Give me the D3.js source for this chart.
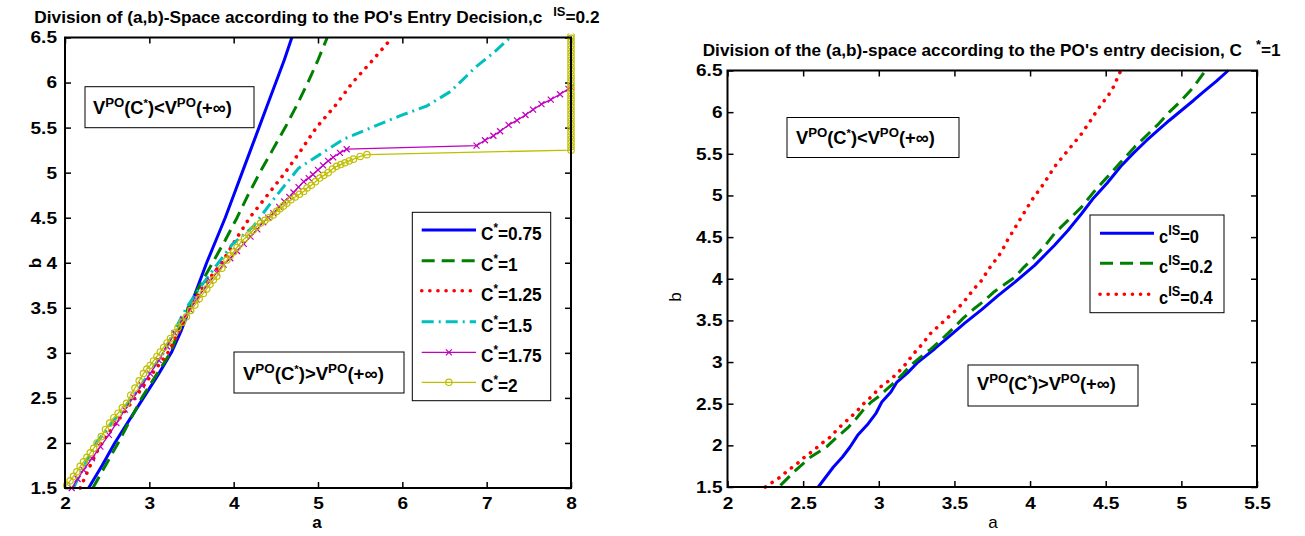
<!DOCTYPE html>
<html><head><meta charset="utf-8">
<script src="https://cdn.jsdelivr.net/npm/d3@7"></script>
<style>html,body{margin:0;padding:0;background:#fff;}svg{display:block;}</style>
</head><body>
<svg id="chart" width="1305" height="536"></svg>
<script>
// ---------------- DATA ----------------
// Left panel: c^IS = 0.2, curves for different C*
const leftXTicks = [2, 3, 4, 5, 6, 7, 8];
const leftYTicks = [1.5, 2, 2.5, 3, 3.5, 4, 4.5, 5, 5.5, 6, 6.5];
const leftLabels = ["0.75", "1", "1.25", "1.5", "1.75", "2"];

const leftC075 = [[2.28,1.5],[2.44,1.75],[2.59,2.0],[2.76,2.25],[2.93,2.5],[3.10,2.75],[3.26,3.0],[3.38,3.25],[3.48,3.5],[3.58,3.75],[3.68,4.0],[3.79,4.25],[3.90,4.5],[4.00,4.75],[4.10,5.0],[4.20,5.25],[4.30,5.5],[4.40,5.75],[4.50,6.0],[4.60,6.25],[4.69,6.5]];
const leftC1 = [[2.33,1.5],[2.48,1.75],[2.63,2.0],[2.77,2.25],[2.91,2.5],[3.08,2.75],[3.25,3.0],[3.35,3.25],[3.46,3.5],[3.60,3.75],[3.75,4.0],[3.90,4.25],[4.04,4.5],[4.17,4.75],[4.31,5.0],[4.46,5.25],[4.61,5.5],[4.75,5.75],[4.88,6.0],[5.00,6.25],[5.11,6.5]];
const leftC125 = [[2.18,1.5],[2.30,1.75],[2.43,2.0],[2.63,2.25],[2.83,2.5],[3.02,2.75],[3.22,3.0],[3.36,3.25],[3.48,3.5],[3.65,3.75],[3.86,4.0],[4.02,4.25],[4.19,4.5],[4.40,4.75],[4.61,5.0],[4.80,5.25],[4.98,5.5],[5.21,5.75],[5.41,6.0],[5.65,6.25],[5.88,6.5]];
const leftC15 = [[2.10,1.5],[2.23,1.75],[2.37,2.0],[2.58,2.25],[2.80,2.5],[2.98,2.75],[3.17,3.0],[3.30,3.25],[3.44,3.5],[3.62,3.75],[3.82,4.0],[3.98,4.2],[4.23,4.40],[4.47,4.70],[4.77,5.05],[5.02,5.2],[5.30,5.37],[5.58,5.48],[5.97,5.63],[6.29,5.74],[6.57,5.90],[6.88,6.18],[7.08,6.33],[7.28,6.5]];
const leftC175 = [[2.08,1.5],[2.15,1.60],[2.22,1.70],[2.32,1.83],[2.42,1.96],[2.52,2.09],[2.61,2.22],[2.71,2.37],[2.81,2.51],[2.91,2.64],[3.01,2.77],[3.11,2.92],[3.21,3.07],[3.30,3.22],[3.40,3.37],[3.48,3.48],[3.56,3.59],[3.64,3.70],[3.72,3.80],[3.80,3.89],[3.88,3.98],[3.96,4.05],[4.04,4.13],[4.12,4.21],[4.20,4.29],[4.28,4.37],[4.35,4.45],[4.41,4.50],[4.47,4.55],[4.54,4.62],[4.60,4.68],[4.66,4.73],[4.71,4.78],[4.77,4.84],[4.83,4.90],[4.89,4.94],[4.94,4.98],[5.00,5.03],[5.06,5.08],[5.12,5.13],[5.18,5.17],[5.26,5.22],[5.34,5.26],[6.88,5.30],[6.98,5.36],[7.08,5.41],[7.16,5.46],[7.26,5.53],[7.36,5.58],[7.46,5.64],[7.55,5.70],[7.65,5.76],[7.76,5.81],[7.87,5.87],[7.97,5.93],[8.0,5.95]];
const leftC2 = [[2.02,1.53],[2.06,1.58],[2.10,1.63],[2.14,1.68],[2.18,1.74],[2.22,1.79],[2.26,1.84],[2.30,1.89],[2.34,1.94],[2.38,2.00],[2.43,2.07],[2.48,2.15],[2.53,2.22],[2.58,2.28],[2.63,2.33],[2.68,2.39],[2.73,2.44],[2.78,2.53],[2.83,2.61],[2.88,2.69],[2.93,2.77],[2.97,2.82],[3.01,2.86],[3.05,2.91],[3.09,2.96],[3.13,3.01],[3.17,3.06],[3.21,3.11],[3.25,3.16],[3.30,3.22],[3.34,3.28],[3.39,3.34],[3.44,3.40],[3.49,3.47],[3.54,3.53],[3.59,3.60],[3.64,3.66],[3.68,3.71],[3.72,3.76],[3.76,3.81],[3.80,3.85],[3.86,3.94],[3.92,4.03],[3.96,4.08],[4.00,4.12],[4.04,4.17],[4.08,4.22],[4.13,4.27],[4.18,4.31],[4.23,4.36],[4.27,4.40],[4.32,4.44],[4.37,4.47],[4.42,4.50],[4.47,4.53],[4.51,4.57],[4.55,4.60],[4.59,4.63],[4.63,4.66],[4.68,4.70],[4.73,4.73],[4.78,4.76],[4.83,4.79],[4.87,4.83],[4.92,4.86],[4.97,4.90],[5.02,4.94],[5.07,4.97],[5.12,5.00],[5.17,5.04],[5.22,5.07],[5.27,5.09],[5.32,5.11],[5.37,5.13],[5.42,5.15],[5.50,5.18],[5.58,5.20],
  [8.0,5.25],[8.0,5.29],[8.0,5.33],[8.0,5.37],[8.0,5.41],[8.0,5.45],[8.0,5.49],[8.0,5.53],[8.0,5.57],[8.0,5.61],[8.0,5.65],[8.0,5.69],[8.0,5.73],[8.0,5.77],[8.0,5.81],[8.0,5.85],[8.0,5.89],[8.0,5.93],[8.0,5.97],[8.0,6.01],[8.0,6.05],[8.0,6.09],[8.0,6.13],[8.0,6.17],[8.0,6.21],[8.0,6.25],[8.0,6.29],[8.0,6.33],[8.0,6.37],[8.0,6.41],[8.0,6.45],[8.0,6.49],[8.0,6.52]];

// Right panel: C* = 1, curves for different c^IS
const rightXTicks = [2, 2.5, 3, 3.5, 4, 4.5, 5, 5.5];
const rightYTicks = [1.5, 2, 2.5, 3, 3.5, 4, 4.5, 5, 5.5, 6, 6.5];
const rightLabels = ["0", "0.2", "0.4"];

const rightCIS0 = [[2.60,1.5],[2.65,1.62],[2.70,1.74],[2.76,1.86],[2.81,1.98],[2.86,2.12],[2.93,2.26],[2.98,2.38],[3.02,2.52],[3.08,2.64],[3.12,2.76],[3.19,2.87],[3.26,3.0],[3.37,3.16],[3.46,3.30],[3.57,3.47],[3.68,3.63],[3.79,3.80],[3.90,3.96],[4.03,4.16],[4.16,4.40],[4.25,4.58],[4.34,4.78],[4.42,4.97],[4.51,5.15],[4.60,5.35],[4.69,5.52],[4.77,5.66],[4.85,5.79],[4.92,5.90],[5.00,6.02],[5.08,6.14],[5.15,6.25],[5.23,6.37],[5.31,6.50]];
const rightCIS02 = [[2.35,1.52],[2.40,1.61],[2.45,1.70],[2.50,1.78],[2.55,1.86],[2.61,1.93],[2.66,1.99],[2.70,2.06],[2.75,2.14],[2.80,2.22],[2.85,2.32],[2.90,2.43],[2.95,2.52],[3.01,2.60],[3.05,2.67],[3.10,2.75],[3.16,2.86],[3.21,2.96],[3.27,3.05],[3.34,3.15],[3.42,3.28],[3.50,3.42],[3.56,3.53],[3.63,3.64],[3.70,3.74],[3.76,3.84],[3.83,3.93],[3.90,4.02],[3.96,4.14],[4.03,4.26],[4.10,4.40],[4.16,4.54],[4.25,4.70],[4.34,4.86],[4.42,5.04],[4.51,5.22],[4.60,5.40],[4.69,5.58],[4.77,5.72],[4.85,5.86],[4.92,6.00],[5.00,6.14],[5.08,6.30],[5.16,6.50]];
const rightCIS04 = [[2.25,1.5],[2.30,1.56],[2.35,1.62],[2.40,1.70],[2.46,1.78],[2.51,1.86],[2.57,1.94],[2.62,2.02],[2.68,2.10],[2.73,2.20],[2.79,2.30],[2.85,2.40],[2.90,2.50],[2.96,2.60],[3.01,2.70],[3.07,2.78],[3.12,2.86],[3.18,2.98],[3.23,3.10],[3.29,3.22],[3.34,3.34],[3.40,3.44],[3.46,3.54],[3.52,3.64],[3.57,3.74],[3.63,3.88],[3.68,3.98],[3.72,4.10],[3.77,4.22],[3.81,4.32],[3.85,4.46],[3.93,4.70],[4.01,4.94],[4.09,5.14],[4.16,5.34],[4.25,5.54],[4.34,5.74],[4.40,5.90],[4.45,6.04],[4.50,6.16],[4.54,6.26],[4.57,6.38],[4.60,6.50]];

// ---------------- DRAWING ----------------
const FONT = "'Liberation Sans', Arial, Helvetica, sans-serif";
const svg = d3.select("#chart");

function rich(g, x, y, parts, size, targetW, weight) {
  const t = g.append("text").attr("font-family", FONT)
    .attr("font-weight", weight || "bold").attr("font-size", size).attr("fill", "#000");
  let cur = 0;
  parts.forEach(p => {
    const s = t.append("tspan").text(p.t);
    const want = p.rise ? -p.rise : 0;
    s.attr("dy", want - cur); cur = want;
    if (p.size) s.attr("font-size", p.size);
    if (p.dx) s.attr("dx", p.dx);
  });
  let sx = 1;
  if (targetW) { const w = t.node().getBBox().width; sx = targetW / w; }
  t.attr("transform", `translate(${x},${y}) scale(${sx},1)`);
  return sx;
}

function panel(cfg) {
  const x = d3.scaleLinear().domain(cfg.xDomain).range([cfg.left, cfg.right]);
  const y = d3.scaleLinear().domain(cfg.yDomain).range([cfg.bottom, cfg.top]);
  const g = svg.append("g");
  const clipId = "clip" + cfg.id;
  svg.append("clipPath").attr("id", clipId).append("rect")
    .attr("x", cfg.left - 4).attr("y", cfg.top - 4)
    .attr("width", cfg.right - cfg.left + 8).attr("height", cfg.bottom - cfg.top + 8);

  const fmt = d => String(d);
  const bottom = g.append("g").attr("transform", `translate(0,${cfg.bottom})`)
    .call(d3.axisBottom(x).tickValues(cfg.xTicks).tickFormat(fmt).tickSizeInner(-6).tickSizeOuter(0).tickPadding(cfg.xPad));
  const leftA = g.append("g").attr("transform", `translate(${cfg.left},0)`)
    .call(d3.axisLeft(y).tickValues(cfg.yTicks).tickFormat(fmt).tickSizeInner(-6).tickSizeOuter(0).tickPadding(cfg.yPad));
  const topA = g.append("g").attr("transform", `translate(0,${cfg.top})`)
    .call(d3.axisTop(x).tickValues(cfg.xTicks).tickFormat("").tickSizeInner(-6).tickSizeOuter(0));
  const rightA = g.append("g").attr("transform", `translate(${cfg.right},0)`)
    .call(d3.axisRight(y).tickValues(cfg.yTicks).tickFormat("").tickSizeInner(-6).tickSizeOuter(0));
  [bottom, leftA, topA, rightA].forEach(a => {
    a.select(".domain").remove();
    a.selectAll(".tick line").attr("stroke", "#000").attr("stroke-width", 1.5);
    a.selectAll("text").attr("font-family", FONT).attr("font-weight", "bold")
      .attr("font-size", cfg.tickSize).attr("fill", "#000")
      .each(function() {
        const t = d3.select(this);
        const tx = +t.attr("x") || 0, ty = +t.attr("y") || 0;
        t.attr("x", 0).attr("y", 0).attr("transform", `translate(${tx},${ty}) scale(1.12,1)`);
      });
  });

  const line = d3.line().x(d => x(d[0])).y(d => y(d[1]));
  const sg = g.append("g").attr("clip-path", `url(#${clipId})`);
  cfg.series.forEach(s => {
    sg.append("path").attr("d", line(s.data)).attr("fill", "none")
      .attr("stroke", s.color).attr("stroke-width", s.width)
      .attr("stroke-dasharray", s.dash || null)
      .attr("stroke-linecap", s.cap || "butt").attr("stroke-linejoin", "round");
    if (s.marker === "x") {
      sg.selectAll(null).data(s.data).join("path")
        .attr("d", d => `M${x(d[0])-3},${y(d[1])-3}L${x(d[0])+3},${y(d[1])+3}M${x(d[0])-3},${y(d[1])+3}L${x(d[0])+3},${y(d[1])-3}`)
        .attr("stroke", s.color).attr("stroke-width", 1.2).attr("fill", "none");
    } else if (s.marker === "o") {
      sg.selectAll(null).data(s.data).join("circle")
        .attr("cx", d => x(d[0])).attr("cy", d => y(d[1])).attr("r", 3.2)
        .attr("stroke", s.color).attr("stroke-width", 1.2).attr("fill", "none");
    }
  });

  g.append("rect").attr("x", cfg.left).attr("y", cfg.top)
    .attr("width", cfg.right - cfg.left).attr("height", cfg.bottom - cfg.top)
    .attr("fill", "none").attr("stroke", "#000").attr("stroke-width", 2);
  return {g, x, y};
}

const lineStyles = [
  {color: "#0000ff", width: 3, dash: null},
  {color: "#008000", width: 3, dash: "13,7"},
  {color: "#ff0000", width: 3.6, dash: "0.1,8", cap: "round"},
  {color: "#00bfbf", width: 3, dash: "12,5,2,5"},
  {color: "#bf00bf", width: 1.3, dash: null, marker: "x"},
  {color: "#bfbf00", width: 1.3, dash: null, marker: "o"}
];
const leftData = [leftC075, leftC1, leftC125, leftC15, leftC175, leftC2];
const rightData = [rightCIS0, rightCIS02, rightCIS04];

panel({
  id: "L", left: 65, right: 571, top: 37.5, bottom: 488,
  xDomain: [2, 8], yDomain: [1.5, 6.5], xTicks: leftXTicks, yTicks: leftYTicks,
  xPad: 9, yPad: 8, tickSize: 17,
  series: leftData.map((d, i) => Object.assign({data: d}, lineStyles[i]))
});
panel({
  id: "R", left: 727.5, right: 1257, top: 70.5, bottom: 487,
  xDomain: [2, 5.5], yDomain: [1.5, 6.5], xTicks: rightXTicks, yTicks: rightYTicks,
  xPad: 10, yPad: 5, tickSize: 17,
  series: rightData.map((d, i) => Object.assign({data: d}, lineStyles[i]))
});

// titles
rich(svg, 34.3, 23, [
  {t: "Division of (a,b)-Space according to the PO's Entry Decision,c"},
  {t: "IS", rise: 7, size: 12, dx: 10},
  {t: "=0.2"}
], 16, 566);
rich(svg, 702.7, 56, [
  {t: "Division of the (a,b)-space according to the PO's entry decision, C"},
  {t: "*", rise: 7, size: 12, dx: 13},
  {t: "=1"}
], 16, 578);

// axis labels
svg.append("text").attr("x", 317).attr("y", 528).attr("text-anchor", "middle")
  .attr("font-family", FONT).attr("font-weight", "bold").attr("font-size", 17).text("a");
svg.append("text").attr("transform", "translate(41,263) rotate(-90)").attr("text-anchor", "middle")
  .attr("font-family", FONT).attr("font-weight", "bold").attr("font-size", 17).text("b");
svg.append("text").attr("x", 993).attr("y", 528).attr("text-anchor", "middle")
  .attr("font-family", FONT).attr("font-size", 17).text("a");
svg.append("text").attr("transform", "translate(681,297) rotate(-90)").attr("text-anchor", "middle")
  .attr("font-family", FONT).attr("font-size", 17).text("b");

// annotation boxes
function annot(x0, y0, w, h, sign, tx, ty, tw) {
  svg.append("rect").attr("x", x0).attr("y", y0).attr("width", w).attr("height", h)
    .attr("fill", "#fff").attr("stroke", "#000").attr("stroke-width", 1);
  rich(svg, tx, ty, [
    {t: "V"}, {t: "PO", rise: 7, size: 13}, {t: "(C"}, {t: "*", rise: 7, size: 11},
    {t: ")" + sign + "V"}, {t: "PO", rise: 7, size: 13}, {t: "(+\u221e)"}
  ], 18, tw);
}
annot(85, 86.7, 169, 41, "<", 93, 114, 139);
annot(234, 352, 170, 41, ">", 243, 379.5, 141);
annot(787, 117.5, 172, 40, "<", 796, 144, 139);
annot(968, 365, 170, 41, ">", 977, 390, 139);

// legends
function legend(x0, y0, w, h, lx0, lx1, tx, rows, items, prefix, targetW) {
  svg.append("rect").attr("x", x0).attr("y", y0).attr("width", w).attr("height", h)
    .attr("fill", "#fff").attr("stroke", "#000").attr("stroke-width", 1);
  let sx = null;
  items.forEach((lab, i) => {
    const st = lineStyles[i], yy = rows[i];
    svg.append("line").attr("x1", lx0).attr("x2", lx1).attr("y1", yy).attr("y2", yy)
      .attr("stroke", st.color).attr("stroke-width", st.width)
      .attr("stroke-dasharray", st.dash || null).attr("stroke-linecap", st.cap || "butt");
    const mx = (lx0 + lx1) / 2;
    if (st.marker === "x") {
      svg.append("path").attr("d", `M${mx-3},${yy-3}L${mx+3},${yy+3}M${mx-3},${yy+3}L${mx+3},${yy-3}`)
        .attr("stroke", st.color).attr("stroke-width", 1.2);
    } else if (st.marker === "o") {
      svg.append("circle").attr("cx", mx).attr("cy", yy).attr("r", 3.2)
        .attr("stroke", st.color).attr("stroke-width", 1.2).attr("fill", "none");
    }
    const parts = prefix === "C"
      ? [{t: "C"}, {t: "*", rise: 8, size: 12}, {t: "=" + lab}]
      : [{t: "c"}, {t: "IS", rise: 8, size: 14}, {t: "=" + lab}];
    const g = svg.append("g");
    if (i === 0) sx = rich(g, tx, yy + 10, parts, 18, targetW);
    else {
      rich(g, tx, yy + 10, parts, 18, null);
      g.select("text").attr("transform", `translate(${tx},${yy + 10}) scale(${sx},1)`);
    }
  });
}
legend(412.3, 212.3, 138.4, 188.4, 421.7, 476, 481, [230, 260.7, 290.7, 321.7, 352.3, 382.3], leftLabels, "C", 60.7);
legend(1090, 215, 134, 97.7, 1100, 1154, 1159, [233.3, 263.3, 294.3], rightLabels, "c", 40);
</script>
</body></html>
